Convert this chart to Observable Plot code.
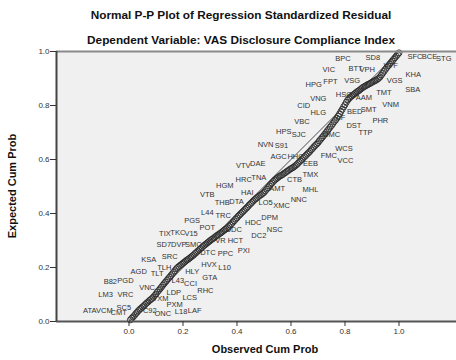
<!DOCTYPE html>
<html>
<head>
<meta charset="utf-8">
<script src="https://cdn.jsdelivr.net/npm/d3@7"></script>
<script src="https://cdn.jsdelivr.net/npm/@observablehq/plot@0.6"></script>
<style>
  body { margin: 0; background: #fff; }
  #wrap { position: relative; width: 456px; height: 360px; font-family: "Liberation Sans", Arial, sans-serif; }
  .ttl { position: absolute; left: 0; width: 482px; text-align: center; font-weight: bold; font-size: 11.8px; color: #111; white-space: nowrap; }
  .ytitle { position: absolute; left: 12px; top: 186px; transform: translate(-50%, -50%) rotate(-90deg); font-weight: bold; font-size: 11px; color: #111; white-space: nowrap; }
  .xtitle { position: absolute; left: 265px; top: 349px; transform: translate(-50%, -50%); font-weight: bold; font-size: 11px; color: #111; white-space: nowrap; }
  g[aria-label="case-labels"] text { letter-spacing: -0.45px; }
</style>
</head>
<body>
<div id="wrap">
  <div id="chart"></div>
  <div class="ttl" style="top:8px">Normal P-P Plot of Regression Standardized Residual</div>
  <div class="ttl" style="top:33px">Dependent Variable: VAS Disclosure Compliance Index</div>
  <div class="ytitle">Expected Cum Prob</div>
  <div class="xtitle">Observed Cum Prob</div>
</div>
<script>
// Observed cumulative probability (x) of each case
const observed = [
  0.005,0.010,0.015,0.020,0.025,0.030,0.035,0.040,0.045,0.050,
  0.055,0.060,0.065,0.070,0.075,0.080,0.085,0.090,0.095,0.100,
  0.105,0.110,0.115,0.120,0.125,0.130,0.135,0.140,0.145,0.150,
  0.155,0.160,0.165,0.170,0.175,0.180,0.185,0.190,0.195,0.200,
  0.205,0.210,0.215,0.220,0.225,0.230,0.235,0.240,0.245,0.250,
  0.255,0.260,0.265,0.270,0.275,0.280,0.285,0.290,0.295,0.300,
  0.305,0.310,0.315,0.320,0.325,0.330,0.335,0.340,0.345,0.350,
  0.355,0.360,0.365,0.370,0.375,0.380,0.385,0.390,0.395,0.400,
  0.405,0.410,0.415,0.420,0.425,0.430,0.435,0.440,0.445,0.450,
  0.455,0.460,0.465,0.470,0.475,0.480,0.485,0.490,0.495,0.500,
  0.505,0.510,0.515,0.520,0.525,0.530,0.535,0.540,0.545,0.550,
  0.555,0.560,0.565,0.570,0.575,0.580,0.585,0.590,0.595,0.600,
  0.605,0.610,0.615,0.620,0.625,0.630,0.635,0.640,0.645,0.650,
  0.655,0.660,0.665,0.670,0.675,0.680,0.685,0.690,0.695,0.700,
  0.705,0.710,0.715,0.720,0.725,0.730,0.735,0.740,0.745,0.750,
  0.755,0.760,0.765,0.770,0.775,0.780,0.785,0.790,0.795,0.800,
  0.805,0.810,0.815,0.820,0.825,0.830,0.835,0.840,0.845,0.850,
  0.855,0.860,0.865,0.870,0.875,0.880,0.885,0.890,0.895,0.900,
  0.905,0.910,0.915,0.920,0.925,0.930,0.935,0.940,0.945,0.950,
  0.955,0.960,0.965,0.970,0.975,0.980,0.985,0.990,0.995,1.000
];
// Expected cumulative probability (y) of each case
const expected = [
  0.006,0.012,0.017,0.022,0.029,0.034,0.040,0.045,0.049,0.054,
  0.058,0.063,0.068,0.072,0.077,0.081,0.085,0.090,0.096,0.102,
  0.109,0.115,0.121,0.127,0.134,0.140,0.146,0.152,0.158,0.164,
  0.170,0.176,0.182,0.188,0.195,0.200,0.204,0.208,0.212,0.216,
  0.220,0.224,0.228,0.231,0.235,0.239,0.243,0.247,0.252,0.256,
  0.261,0.265,0.270,0.274,0.279,0.283,0.287,0.291,0.295,0.299,
  0.303,0.306,0.310,0.314,0.318,0.321,0.325,0.328,0.332,0.336,
  0.340,0.343,0.347,0.352,0.357,0.362,0.368,0.373,0.379,0.384,
  0.390,0.395,0.400,0.405,0.410,0.415,0.420,0.425,0.431,0.436,
  0.441,0.446,0.451,0.455,0.459,0.463,0.467,0.470,0.474,0.478,
  0.484,0.490,0.496,0.502,0.508,0.513,0.519,0.524,0.528,0.532,
  0.536,0.539,0.542,0.545,0.549,0.552,0.556,0.559,0.563,0.566,
  0.569,0.572,0.576,0.580,0.585,0.590,0.595,0.600,0.605,0.610,
  0.615,0.620,0.625,0.630,0.636,0.641,0.647,0.652,0.657,0.662,
  0.669,0.675,0.681,0.687,0.694,0.700,0.707,0.713,0.720,0.726,
  0.733,0.740,0.746,0.753,0.761,0.769,0.778,0.786,0.795,0.803,
  0.812,0.820,0.826,0.831,0.835,0.839,0.843,0.847,0.851,0.854,
  0.858,0.862,0.866,0.869,0.872,0.875,0.878,0.880,0.883,0.886,
  0.889,0.891,0.894,0.897,0.901,0.906,0.913,0.920,0.927,0.934,
  0.941,0.947,0.953,0.959,0.965,0.971,0.977,0.983,0.989,0.995
];

// Case labels and where SPSS placed them (in data units)
const labelNames = ["BPC","SD8","VIC","BTT","VPH","VTF","HPG","FPT","VSG","VGS","HSG","AAM","TMT","VNM","VNG","CID","HLG","BED","SMT","VBC","LF","DST","PHR","HPS","SJC","GMC","TTP","NVN","S91","WCS","AGC","HHC","FMC","VCC","EEB","VTV","DAE","TNA","HRC","CTB","TMX","MHL","HGM","AMT","HAI","VTB","THB","DTA","LO5","XMC","NNC","L44","TRC","PGS","POT","UDC","HDC","DPM","TIX","TKC","V15","NSC","DC2","SD7","DVP","SMC","VR","HCT","DTC","PPC","PXI","KSA","SRC","AGD","TLT","TLH","L43","HLY","HVX","L10","GTA","CCI","B82","PGD","VNC","LDP","RHC","LCS","LM3","VRC","TXM","PXM","ATA","VCM","SC5","CMT","C92","ONC","L18","LAF","SFC","BCE","STG","KHA","SBA"];
const labelX = [0.792,0.903,0.740,0.839,0.882,0.969,0.684,0.746,0.827,0.984,0.796,0.870,0.944,0.969,0.701,0.647,0.701,0.836,0.888,0.641,0.785,0.833,0.931,0.573,0.629,0.750,0.876,0.506,0.565,0.796,0.554,0.617,0.740,0.802,0.672,0.423,0.477,0.481,0.425,0.613,0.672,0.672,0.355,0.549,0.438,0.290,0.345,0.398,0.506,0.565,0.629,0.290,0.349,0.234,0.290,0.388,0.460,0.521,0.133,0.181,0.230,0.540,0.481,0.129,0.184,0.238,0.339,0.394,0.292,0.357,0.425,0.073,0.151,0.036,0.104,0.131,0.181,0.234,0.296,0.354,0.299,0.228,-0.069,-0.013,0.067,0.166,0.283,0.225,-0.087,-0.013,0.117,0.169,-0.145,-0.091,-0.019,-0.038,0.077,0.125,0.193,0.243,1.059,1.113,1.166,1.053,1.051];
const labelY = [0.974,0.978,0.932,0.935,0.932,0.947,0.876,0.888,0.894,0.894,0.842,0.830,0.848,0.805,0.826,0.801,0.774,0.777,0.784,0.740,0.756,0.727,0.743,0.703,0.694,0.694,0.698,0.654,0.651,0.641,0.610,0.612,0.614,0.595,0.583,0.577,0.583,0.533,0.524,0.525,0.543,0.490,0.503,0.494,0.478,0.469,0.439,0.444,0.441,0.431,0.453,0.404,0.394,0.373,0.346,0.342,0.367,0.385,0.327,0.330,0.327,0.339,0.317,0.283,0.283,0.283,0.301,0.301,0.256,0.252,0.264,0.231,0.240,0.185,0.178,0.198,0.151,0.185,0.210,0.198,0.161,0.141,0.147,0.153,0.127,0.107,0.114,0.087,0.101,0.098,0.083,0.062,0.040,0.042,0.050,0.032,0.042,0.030,0.037,0.042,0.980,0.980,0.972,0.914,0.858];

const ticks = [0.0, 0.2, 0.4, 0.6, 0.8, 1.0];
const xDomain = [-0.2685, 1.213];
const yDomain = [0, 1];
const diagonal = [0, 1];

const points = observed.map((x, i) => ({x, y: expected[i]}));
const labels = labelNames.map((t, i) => ({t, x: labelX[i], y: labelY[i]}));

const chart = Plot.plot({
  width: 456,
  height: 360,
  marginLeft: 56,
  marginRight: 0,
  marginTop: 51,
  marginBottom: 39,
  style: {fontFamily: "'Liberation Sans', Arial, sans-serif", background: "transparent", overflow: "visible"},
  x: {domain: xDomain},
  y: {domain: yDomain},
  marks: [
    Plot.frame({fill: "#f0f0f0", stroke: "none"}),
    Plot.text(labels, {x: "x", y: "y", text: "t", fontSize: 7.5, fill: "#333", ariaLabel: "case-labels"}),
    Plot.line(diagonal, {x: d => d, y: d => d, stroke: "#222", strokeWidth: 0.8}),
    Plot.dot(points, {x: "x", y: "y", r: 3, stroke: "#2a2a2a", strokeWidth: 0.9, fill: "none"}),
    Plot.ruleY([yDomain[1]], {stroke: "#8a8a8a", strokeWidth: 2}),
    Plot.ruleY([yDomain[0]], {stroke: "#555", strokeWidth: 2}),
    Plot.ruleX([xDomain[0]], {stroke: "#444", strokeWidth: 2}),
    Plot.axisX(ticks, {tickFormat: d3.format(".1f"), tickSize: 5, tickPadding: 2, fontSize: 8, color: "#333", label: null}),
    Plot.axisY(ticks, {tickFormat: d3.format(".1f"), tickSize: 6, tickPadding: 1, fontSize: 8, color: "#333", label: null})
  ]
});
document.getElementById("chart").appendChild(chart);
</script>
</body>
</html>
